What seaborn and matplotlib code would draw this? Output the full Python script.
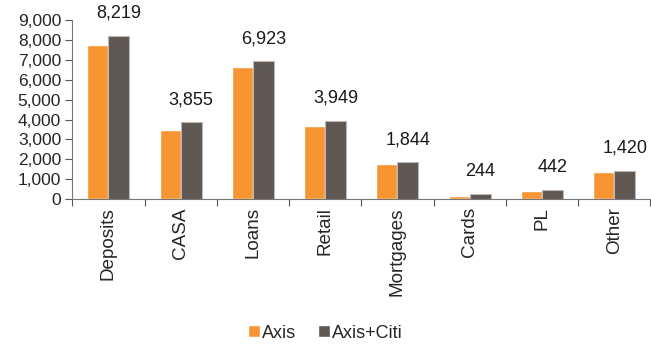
import matplotlib
matplotlib.use("Agg")
import matplotlib.pyplot as plt
import seaborn as sns
import pandas as pd
import numpy as np

categories = ["Deposits", "CASA", "Loans", "Retail", "Mortgages", "Cards", "PL", "Other"]
axis_vals = [7740, 3470, 6650, 3690, 1760, 140, 410, 1350]
combined_vals = [8219, 3855, 6923, 3949, 1844, 244, 442, 1420]
series_names = ["Axis", "Axis+Citi"]
yticks = [0, 1000, 2000, 3000, 4000, 5000, 6000, 7000, 8000, 9000]

sns.set_theme(style="white")
plt.rcParams["font.family"] = ["Liberation Sans", "DejaVu Sans"]

df = pd.DataFrame({
    "cat": categories * 2,
    "val": axis_vals + combined_vals,
    "series": [series_names[0]] * len(categories) + [series_names[1]] * len(categories),
})

fig = plt.figure(figsize=(6.51, 3.47), dpi=100)
ax = fig.add_axes([0.111, 0.4265, 0.888, 0.5155])

colors = ["#F79532", "#5F5752"]
sns.barplot(data=df, x="cat", y="val", hue="series", hue_order=series_names,
            palette=colors, width=0.58, ax=ax, saturation=1, legend=True)

for bar in ax.containers[1]:
    bar.set_edgecolor("#BDB8B5")
    bar.set_linewidth(0.8)

labels = [f"{v:,}" for v in combined_vals]
ax.bar_label(ax.containers[1], labels=labels, padding=10, fontsize=13, color="#1a1a1a")

ax.set_ylim(0, 9000)
ax.set_yticks(yticks)
ax.set_yticklabels([f"{v:,}" for v in yticks], fontsize=12.5)
ax.set_xlim(-0.5, len(categories) - 0.5)
ax.set_xticks(range(len(categories)))
ax.set_xticklabels(categories, rotation=90, fontsize=13.6)
ax.tick_params(axis="x", which="major", length=0, pad=6)
ax.set_xticks(np.arange(-0.5, len(categories), 1.0), minor=True)
ax.tick_params(axis="x", which="minor", length=5, width=0.8, color="#555555", direction="out", bottom=True)
ax.tick_params(axis="y", length=5, width=0.8, color="#555555", direction="out", left=True, pad=3)
ax.set_xlabel("")
ax.set_ylabel("")

for s in ["top", "right"]:
    ax.spines[s].set_visible(False)
for s in ["left", "bottom"]:
    ax.spines[s].set_color("#777777")
    ax.spines[s].set_linewidth(0.8)

leg = ax.get_legend()
handles, lbls = ax.get_legend_handles_labels()
leg.remove()
fig.legend(handles, lbls, loc="center", bbox_to_anchor=(0.5, 0.04), ncol=2, frameon=False,
           fontsize=13, handlelength=0.65, handleheight=0.65, handletextpad=0.15,
           columnspacing=1.2)

fig.savefig("out.png", dpi=100)
